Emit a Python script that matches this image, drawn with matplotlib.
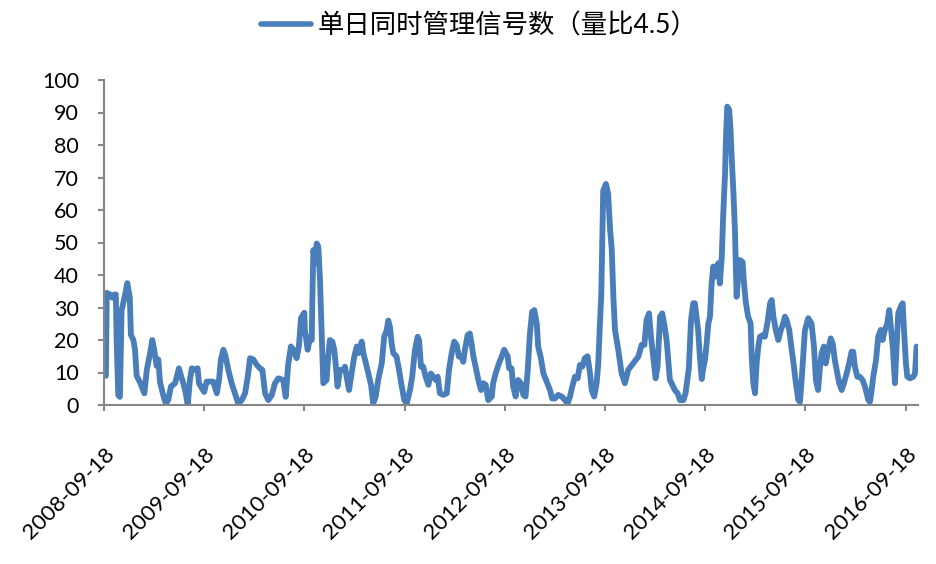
import numpy as np
import pandas as pd
import matplotlib
matplotlib.use("Agg")
import matplotlib.pyplot as plt

plt.rcParams['font.family'] = ['Lato', 'Noto Sans CJK SC', 'DejaVu Sans']

start_date = "2008-09-18"
series_name = "单日同时管理信号数（量比4.5）"
tick_labels = ["2008-09-18", "2009-09-18", "2010-09-18", "2011-09-18", "2012-09-18",
               "2013-09-18", "2014-09-18", "2015-09-18", "2016-09-18"]
y_ticks = [0, 10, 20, 30, 40, 50, 60, 70, 80, 90, 100]

# days since 2008-09-18
day_offsets = [
    7, 10, 22, 30, 38, 43, 46, 52, 58, 64, 77, 85, 94, 98, 107, 113, 119, 131, 147, 156,
    168, 176, 183, 192, 198, 204, 216, 225, 234, 244, 259, 273, 281, 289, 298, 305, 313, 320, 329, 341,
    346, 356, 365, 374, 398, 411, 419, 426, 435, 443, 453, 465, 477, 489, 502, 514, 524, 532, 544, 556,
    568, 577, 587, 599, 611, 623, 635, 653, 662, 671, 681, 690, 702, 710, 718, 730,
    732, 742, 751, 757, 759, 763, 769, 775, 781, 787, 793, 799, 811, 817, 823, 832, 839, 844, 851, 860,
    872, 878, 884, 893, 902, 912, 921, 929, 939, 945, 953, 963, 973, 981, 990, 999, 1012, 1021, 1030, 1036,
    1042, 1048, 1054, 1066, 1075, 1085, 1094, 1103, 1115, 1123, 1133, 1143, 1148, 1155, 1163, 1172, 1182, 1191, 1200, 1209,
    1216, 1224, 1236, 1249, 1257, 1267, 1276, 1285, 1293, 1303, 1309, 1315, 1325, 1333, 1340, 1346, 1354, 1364, 1374, 1382,
    1391, 1400, 1413, 1418, 1427, 1439, 1449, 1458,
    1471, 1476, 1485, 1491, 1500, 1509, 1519, 1528, 1536, 1544, 1552, 1560, 1568, 1577, 1582, 1592, 1601, 1613, 1625, 1633,
    1643, 1655, 1668, 1680, 1689, 1698, 1706, 1716, 1726, 1734, 1743, 1752, 1762, 1771, 1777, 1786, 1795, 1801, 1807, 1812,
    1816, 1819, 1829, 1837, 1844, 1850, 1856, 1862, 1874, 1886, 1898, 1910, 1928, 1947, 1959, 1969, 1977, 1986, 1993, 2001,
    2010, 2017, 2026, 2034, 2041, 2050, 2056, 2062, 2071, 2080, 2090, 2099, 2111, 2119, 2127, 2131, 2139, 2147, 2153, 2159,
    2165, 2171, 2178, 2183, 2190, 2196, 2202, 2208, 2214, 2220, 2226, 2232, 2238, 2244, 2251, 2256, 2263, 2266, 2271, 2278,
    2283, 2287, 2293, 2299, 2303, 2305, 2311, 2317, 2327, 2332, 2339, 2347, 2356, 2360, 2366, 2372, 2378, 2384, 2390, 2400,
    2408, 2417, 2427, 2433, 2439, 2448, 2457, 2466, 2475, 2481, 2487, 2497, 2506, 2514, 2521, 2530, 2536, 2542, 2550, 2554,
    2566, 2578, 2587, 2594, 2602, 2609, 2615, 2623, 2630, 2639, 2648, 2655, 2663, 2672, 2679, 2688, 2696, 2706, 2715, 2724,
    2730, 2736, 2745, 2754, 2764, 2773, 2779, 2785, 2791, 2797, 2803, 2813, 2821, 2830, 2837, 2845, 2854, 2861, 2866, 2874,
    2882, 2888, 2894, 2903, 2910, 2915, 2922, 2927, 2937, 2949, 2955, 2961,
]
signal_counts = [
    9, 34.5, 34, 33, 34, 34, 20, 3, 2.5, 29, 34, 37.5, 33, 21.6, 20, 17, 9, 7, 3.6, 10.8,
    16, 20, 17, 12, 14, 7, 3, 0.5, 1.5, 5.7, 6.7, 11.3, 8.8, 6.7, 3.6, 0, 7.7, 11.3, 10.8, 11.3,
    6.7, 5.2, 4, 7.2, 7.2, 3.6, 7.7, 14, 17, 15, 10.8, 6.7, 3.6, 0.5, 1.5, 3.6, 8.8, 14.4, 14, 12.4,
    11.3, 10.8, 3.6, 1.5, 3, 6.7, 8.2, 7.7, 2.5, 12.4, 18, 17, 14.4, 18, 26.8, 28.4,
    23, 17, 21, 20, 32, 47.7, 43.6, 49.7, 48.7, 38.5, 23, 6.7, 7.7, 14.9, 20, 19.5, 17, 12.8, 5.7, 10.8,
    10.8, 11.8, 8.7, 4.6, 9.7, 14.9, 18, 16, 19.5, 16, 13.3, 9.7, 6.2, 0.5, 2.6, 7.7, 12.8, 21, 23, 26,
    24, 19, 16, 14.9, 10.8, 5.7, 1.5, 0.5, 4.6, 8.7, 17, 21, 20, 11.8, 11.8, 8.7, 6.2, 9.7, 8.7, 7.7,
    8.7, 3.6, 3.1, 3.6, 10.8, 16, 19.5, 18.5, 14.9, 14.9, 13.3, 17, 21.5, 22, 18.5, 14.9, 11.8, 7.7, 4.6, 6.7,
    6.2, 1.5, 2.6, 6.7, 9.7, 12.8, 14.9, 17,
    15, 11.3, 11.3, 5.6, 2.6, 7.7, 6.7, 3.1, 2.6, 10.8, 22, 28.7, 29.2, 25, 18, 14.4, 9.7, 7.2, 4.6, 2,
    2, 3.1, 2.6, 1.5, 0.5, 2.6, 5.6, 8.7, 8.2, 12.3, 11.8, 14.4, 15, 9.7, 4.6, 2.6, 6.7, 12.8, 25, 34,
    52, 66, 68, 65, 54, 48, 33.3, 23, 16.9, 9.7, 6.7, 10.8, 12.8, 14.9, 18.5, 18.5, 26.2, 28.2, 21, 15,
    8.2, 11.8, 27.2, 28.2, 25, 20, 13.8, 7.7, 6.2, 4.6, 3.6, 1.5, 1.5, 3.6, 8.7, 11.3, 26.2, 31.3, 31.3, 27,
    23, 15, 8, 11, 14, 19, 25, 27.2, 37.4, 42.6, 39.5, 41.5, 43.6, 37.4, 45.6, 58, 71.3, 81.5, 91.8, 90.8,
    84.6, 76.4, 66.2, 53.8, 40.5, 33.3, 39.5, 44.6, 44, 37.4, 31.3, 27.2, 25.1, 14.9, 6.7, 3.6, 12.8, 17.9, 21, 21.5,
    21, 25.1, 31.3, 32.3, 27.2, 23, 20, 23, 25.1, 27.2, 26.2, 23, 16.9, 11.8, 6.7, 1.5, 1, 7.7, 17.9, 23,
    26.7, 25.1, 18, 7.7, 4.6, 11.8, 16, 18, 12.8, 17, 20.5, 19, 13.8, 9.7, 6.7, 4.6, 6.7, 9.7, 12.8, 16.4,
    16.4, 11.8, 8.7, 8.7, 7.7, 5.6, 3.6, 1.5, 1, 4.6, 8.7, 13.8, 21, 23.1, 20, 23.1, 25.1, 29.2, 25.1, 18,
    6.7, 18, 28.2, 30.3, 31.3, 23.1, 12.8, 8.7, 8.2, 8.7, 9.7, 18,
]

t0 = pd.Timestamp(start_date)
dates = t0 + pd.to_timedelta(day_offsets, unit="D")
tick_dates = pd.to_datetime(tick_labels)

fig = plt.figure(figsize=(9.36, 5.64), dpi=100)
ax = fig.add_axes([104/936, 1-405/564, (918-104)/936, (405-80)/564])

line_color = "#4a7ebb"
ax.plot(dates, signal_counts, color=line_color, lw=4.2, solid_joinstyle="round",
        solid_capstyle="round", label=series_name)

ax.set_xlim(t0, t0 + pd.Timedelta(days=2966))
ax.set_ylim(0, 100)
ax.set_yticks(y_ticks)
ax.set_yticklabels([str(v) for v in y_ticks], fontsize=15.5)
ax.set_xticks(tick_dates)
ax.set_xticklabels(tick_labels, rotation=45, ha="right", va="top",
                   rotation_mode="anchor", fontsize=16)

axis_gray = "#868686"
for side in ["top", "right"]:
    ax.spines[side].set_visible(False)
for side in ["left", "bottom"]:
    ax.spines[side].set_color(axis_gray)
    ax.spines[side].set_linewidth(1.5)
ax.tick_params(axis="both", direction="out", color=axis_gray, width=1.5, length=4,
               labelcolor="black")
ax.tick_params(axis="y", pad=14)
ax.tick_params(axis="x", pad=24)

leg = fig.legend(loc="upper center", bbox_to_anchor=(0.512, 1.018), frameon=False,
                 prop={"family": ["Lato", "Noto Sans CJK SC"], "size": 19},
                 handlelength=1.9, handletextpad=0.25)
for h in leg.get_lines():
    h.set_linewidth(4)

fig.savefig("out.png", dpi=100)
